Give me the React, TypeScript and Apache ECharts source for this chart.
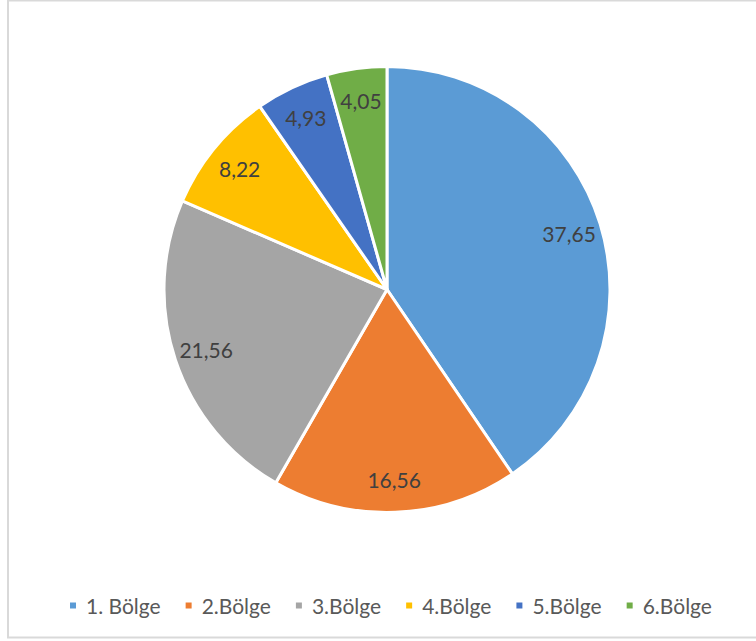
import React, { useEffect, useRef } from "react";
import * as echarts from "echarts";

const categories = ["1. Bölge", "2.Bölge", "3.Bölge", "4.Bölge", "5.Bölge", "6.Bölge"];
const values = [37.65, 16.56, 21.56, 8.22, 4.93, 4.05];
const colors = ["#5B9BD5", "#ED7D31", "#A5A5A5", "#FFC000", "#4472C4", "#70AD47"];

const fmt = (v: number) => v.toFixed(2).replace(".", ",");

export default function App() {
  const ref = useRef<HTMLDivElement>(null);
  useEffect(() => {
    if (!ref.current) return;
    const chart = echarts.init(ref.current, undefined, { renderer: "svg" });
    const data = categories.map((name, i) => ({
      name,
      value: values[i],
      itemStyle: { color: colors[i] },
    }));
    chart.setOption({
      animation: false,
      backgroundColor: "#ffffff",
      graphic: [
        {
          type: "rect",
          z: -10,
          shape: { x: 8, y: 0.5, width: 800, height: 637 },
          style: { fill: "#ffffff", stroke: "#d9d9d9", lineWidth: 2 },
          silent: true,
        },
      ],
      legend: {
        data: categories,
        top: 590,
        left: 63,
        icon: "rect",
        itemWidth: 8,
        itemHeight: 8,
        itemGap: 23,
        textStyle: { fontFamily: "Lato", fontSize: 21, color: "#595959", padding: [0, 0, 0, 4] },
        selectedMode: false,
      },
      series: [
        {
          type: "pie",
          center: [387, 289.5],
          radius: [0, 223],
          startAngle: 90,
          clockwise: true,
          silent: true,
          data,
          itemStyle: { borderColor: "#ffffff", borderWidth: 3 },
          label: { show: false },
          labelLine: { show: false },
          emphasis: { disabled: true },
        },
        {
          type: "pie",
          center: [387, 289.5],
          radius: [152, 223],
          startAngle: 90,
          clockwise: true,
          silent: true,
          data: categories.map((name, i) => ({ name, value: values[i] })),
          itemStyle: { color: "rgba(0,0,0,0)", borderWidth: 0 },
          label: {
            show: true,
            position: "inside",
            formatter: (p: any) => fmt(p.value),
            fontFamily: "Lato",
            fontSize: 21,
            color: "#404040",
          },
          labelLine: { show: false },
          emphasis: { disabled: true },
        },
      ],
    });
    return () => chart.dispose();
  }, []);
  return (
    <div
      ref={ref}
      style={{ position: "fixed", left: 0, top: 0, width: 756, height: 641 }}
    />
  );
}
